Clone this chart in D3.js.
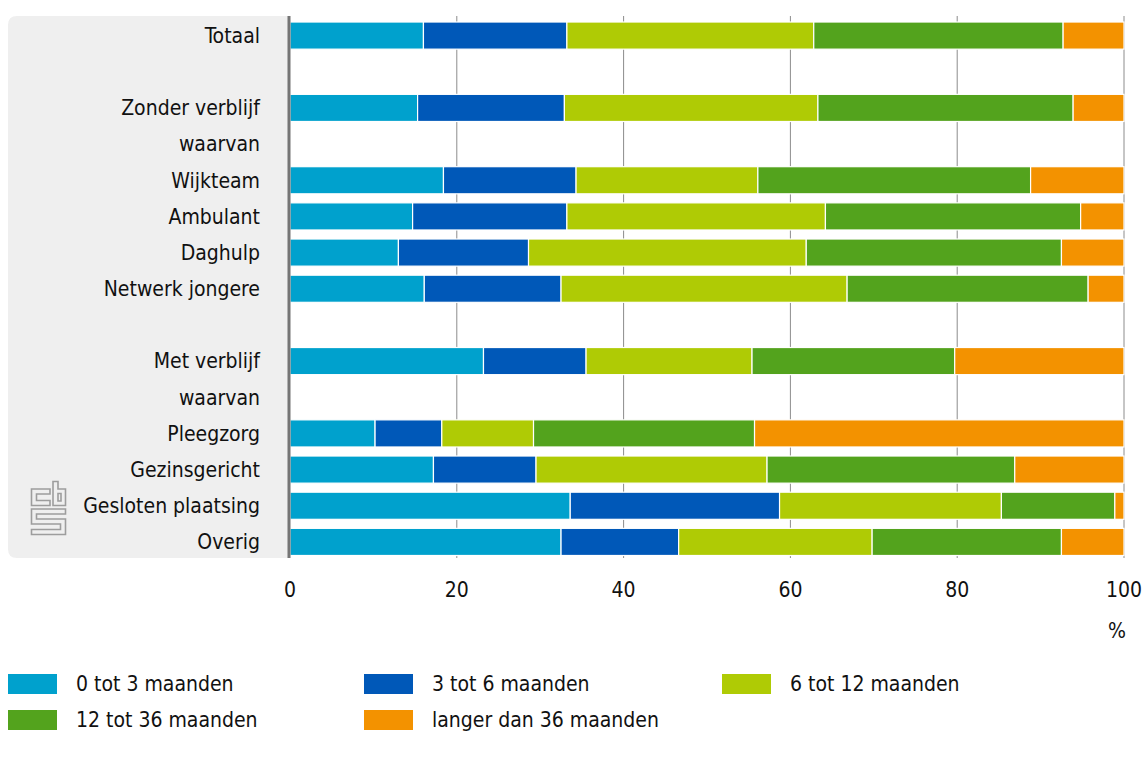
<!DOCTYPE html>
<html>
<head>
<meta charset="utf-8">
<script src="https://cdn.jsdelivr.net/npm/d3@7"></script>
<style>
  html, body { margin: 0; padding: 0; background: #fff; }
  svg { display: block; font-family: "Liberation Sans Narrow", "DejaVu Sans Condensed", "Liberation Sans", sans-serif; }
  .lbl { font-size: 21px; fill: #111; }
</style>
</head>
<body>
<svg id="chart" width="1142" height="760"></svg>
<script>
const categories = ['Totaal', '', 'Zonder verblijf', 'waarvan', 'Wijkteam', 'Ambulant', 'Daghulp',
  'Netwerk jongere', '', 'Met verblijf', 'waarvan', 'Pleegzorg', 'Gezinsgericht', 'Gesloten plaatsing', 'Overig'];
const series = ['0 tot 3 maanden', '3 tot 6 maanden', '6 tot 12 maanden', '12 tot 36 maanden', 'langer dan 36 maanden'];
const colors = ['#00a1cd', '#0058b8', '#afcb05', '#53a31d', '#f39200'];

// null = row without a bar
const m0_3   = [16.0, null, 15.3, null, 18.4, 14.7, 13.0, 16.1, null, 23.2, null, 10.2, 17.2, 33.6, 32.5];
const m3_6   = [17.2, null, 17.6, null, 15.9, 18.5, 15.6, 16.4, null, 12.3, null,  8.0, 12.3, 25.1, 14.1];
const m6_12  = [29.6, null, 30.4, null, 21.8, 31.0, 33.3, 34.3, null, 19.9, null, 11.0, 27.7, 26.6, 23.2];
const m12_36 = [29.9, null, 30.6, null, 32.7, 30.6, 30.6, 28.9, null, 24.3, null, 26.5, 29.7, 13.6, 22.7];
const m36    = [ 7.3, null,  6.1, null, 11.2,  5.2,  7.5,  4.3, null, 20.3, null, 44.3, 13.1,  1.1,  7.5];
const xTicks = [0, 20, 40, 60, 80, 100];

const values = [m0_3, m3_6, m6_12, m12_36, m36];
const rows = categories.map((c, i) => {
  const r = { idx: i, label: c, has: m0_3[i] !== null };
  series.forEach((s, k) => r[s] = values[k][i] || 0);
  return r;
});

const svg = d3.select('#chart');
const x = d3.scaleLinear().domain([0, 100]).range([290, 1124]);
const y = d3.scaleBand().domain(rows.map(r => r.idx)).range([17.5, 560]).paddingInner(0.25).paddingOuter(0.125);

// grey label panel, rounded on the left
const px0 = 8, px1 = 289, py0 = 16, py1 = 558, rr = 9;
svg.append('path')
  .attr('d', `M${px1},${py0} H${px0 + rr} Q${px0},${py0} ${px0},${py0 + rr} V${py1 - rr} Q${px0},${py1} ${px0 + rr},${py1} H${px1} Z`)
  .attr('fill', '#efefef');

// cbs logo
const logo = svg.append('g').attr('transform', 'translate(31,481)')
  .attr('fill', 'none').attr('stroke', '#9d9d9d').attr('stroke-width', 1.6);
logo.append('path').attr('d', 'M19,8 H0.5 V24.5 H19 V19.5 H5.5 V13 H19 Z');
logo.append('path').attr('d', 'M22,0.5 H27 V8 H34.5 V24.5 H22 Z M27,12.5 H30 V20 H27 Z');
logo.append('path').attr('d', 'M0.5,28 H34.5 V33 H5.5 V38 H34.5 V53.5 H0.5 V48.5 H29.5 V43 H0.5 Z');

// vertical grid lines
svg.append('g').selectAll('line').data(xTicks.slice(1)).enter().append('line')
  .attr('x1', d => x(d)).attr('x2', d => x(d))
  .attr('y1', py0).attr('y2', py1)
  .attr('stroke', '#8c8c8c').attr('stroke-width', 1);

// stacked bars
const stacked = d3.stack().keys(series)(rows);
svg.append('g').selectAll('g').data(stacked).enter().append('g')
  .attr('fill', (d, i) => colors[i])
  .selectAll('rect').data(d => d.filter(p => p.data.has)).enter().append('rect')
  .attr('x', d => x(d[0]))
  .attr('y', d => y(d.data.idx))
  .attr('width', d => Math.max(0, x(d[1]) - x(d[0])))
  .attr('height', y.bandwidth())
  .attr('stroke', '#fff').attr('stroke-width', 1.2);

// zero axis line
svg.append('line').attr('x1', 289).attr('x2', 289).attr('y1', py0).attr('y2', py1)
  .attr('stroke', '#757575').attr('stroke-width', 3);

// category labels
svg.append('g').selectAll('text').data(rows.filter(r => r.label)).enter().append('text')
  .attr('class', 'lbl')
  .attr('x', 260).attr('y', d => y(d.idx) + y.bandwidth() / 2)
  .attr('dy', '0.35em').attr('text-anchor', 'end')
  .text(d => d.label);

// x tick labels
svg.append('g').selectAll('text').data(xTicks).enter().append('text')
  .attr('class', 'lbl')
  .attr('x', d => x(d)).attr('y', 590).attr('dy', '0.35em').attr('text-anchor', 'middle')
  .text(d => d);
svg.append('text').attr('class', 'lbl').attr('x', 1117).attr('y', 631).attr('dy', '0.35em')
  .attr('text-anchor', 'middle').text('%');

// legend
const legX = [8, 364, 722];
const leg = svg.append('g').selectAll('g').data(series).enter().append('g')
  .attr('transform', (d, i) => `translate(${legX[i % 3]},${674 + Math.floor(i / 3) * 36})`);
leg.append('rect').attr('width', 49).attr('height', 20).attr('fill', (d, i) => colors[i]);
leg.append('text').attr('class', 'lbl').attr('x', 68).attr('y', 10).attr('dy', '0.35em').text(d => d);
</script>
</body>
</html>
